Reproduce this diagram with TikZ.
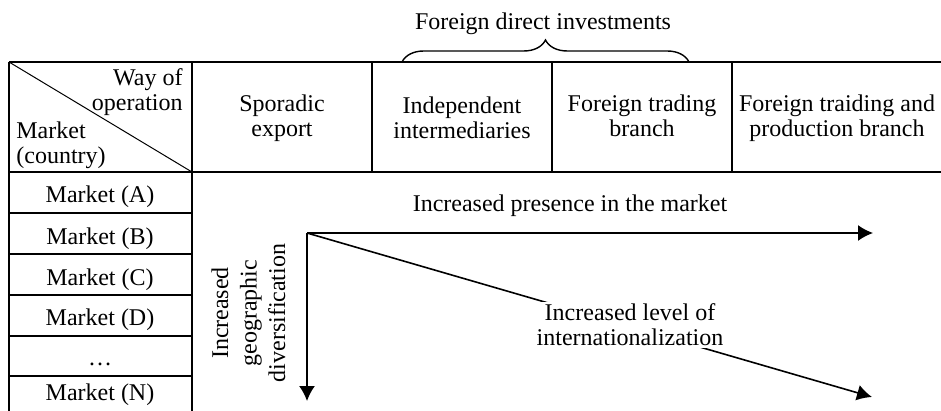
\documentclass[tikz,border=0pt]{standalone}
\usepackage{fontspec}
\setmainfont{Liberation Serif}
\usetikzlibrary{arrows.meta,decorations.pathreplacing}
\begin{document}
\begin{tikzpicture}[x=0.5pt,y=-0.5pt,
  font=\fontsize{12}{12.5}\selectfont,
  grid/.style={line width=1pt},
  arr/.style={line width=0.8pt,-{Latex[length=7.5pt,width=8pt]}},
  cell/.style={align=center,inner sep=0pt},
  lbl/.style={inner sep=0pt},
  mk/.style={inner sep=0pt,anchor=base}]
\useasboundingbox (0,0) rectangle (941,411);
% table grid
\draw[grid] (9,62) -- (941,62);
\draw[grid] (9,172) -- (941,172);
\foreach \x in {372,552,732} \draw[grid] (\x,62) -- (\x,172);
\draw[grid] (9,62) -- (9,411);
\draw[grid] (192,62) -- (192,411);
\foreach \y in {213,254,295,336,376} \draw[grid] (9,\y) -- (192,\y);
\draw[line width=0.5pt] (9,62) -- (192,172);
% brace
\coordinate (bl) at (402,62);
\coordinate (br) at (689,62);
\draw[line width=0.7pt,decorate,decoration={brace,amplitude=11pt}] (bl) -- (br);
\node[lbl,anchor=base] (fdi) at (543,30) {Foreign direct investments};
% corner header
\node[lbl,align=right,anchor=north east] (way) at (183,68.6) {Way of\\operation};
\node[lbl,align=left,anchor=north west] (mkt) at (16,121.6) {Market\\(country)};
% header cells
\node[cell] (h1) at (282,118) {Sporadic\\export};
\node[cell] (h2) at (462,118) {Independent\\intermediaries};
\node[cell] (h3) at (642,115.3) {Foreign trading\\branch};
\node[cell] (h4) at (837,118) {Foreign traiding and\\production branch};
% market rows
\node[mk] (ma) at (100,203) {Market (A)};
\node[mk] (mb) at (100,244) {Market (B)};
\node[mk] (mc) at (100,285) {Market (C)};
\node[mk] (md) at (100,325.5) {Market (D)};
\node[mk] (mdots) at (100,365) {\dots};
\node[mk] (mn) at (100,400) {Market (N)};
% arrows
\coordinate (o) at (307,233);
\coordinate (e1) at (873,233);
\coordinate (e2) at (307,401);
\coordinate (e3) at (872,397);
\draw[arr] (o) -- (e1);
\draw[arr] (o) -- (e2);
\draw[arr] (o) -- (e3);
\node[lbl,anchor=base] (pres) at (570,212) {Increased presence in the market};
\node[align=center,fill=white,inner sep=1pt] (lvl) at (630,325) {Increased level of\\internationalization};
\node[align=center,inner sep=0pt,rotate=90,font=\fontsize{12}{14.25}\selectfont] (geo) at (248.5,313) {Increased\\geographic\\diversification};
\end{tikzpicture}
\end{document}
